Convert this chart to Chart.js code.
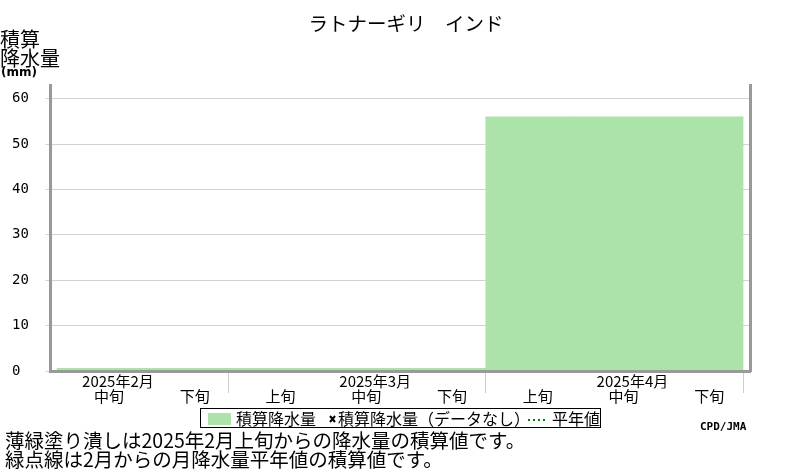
<!DOCTYPE html>
<html>
<head>
<meta charset="utf-8">
<script src="https://cdn.jsdelivr.net/npm/chart.js@4.4.1/dist/chart.umd.min.js"></script>
<style>
  body { margin: 0; background: #fff; }
  canvas { display: block; }
</style>
</head>
<body>
<canvas id="chart" width="800" height="470"></canvas>
<script>
// data
var stationName = 'ラトナーギリ\u3000インド';
var monthLabels = ['2025年2月', '', '', '2025年3月', '', '', '2025年4月', ''];
var dekadLabels = ['中旬', '下旬', '上旬', '中旬', '下旬', '上旬', '中旬', '下旬'];
var monthBounds = [2, 5, 8];
var precipSum = [0.6, 0.6, 0.6, 0.6, 0.6, 56, 56, 56];
var yTicks = [0, 10, 20, 30, 40, 50, 60];
var yMax = 63;
var yCaption = ['積算', '降水量', '(mm)'];
var notes = ['薄緑塗り潰しは2025年2月上旬からの降水量の積算値です。', '緑点線は2月からの月降水量平年値の積算値です。'];
var credit = 'CPD/JMA';

var jp = '"Noto Sans CJK JP", sans-serif';
var green = 'rgb(172, 227, 170)';
var xMin = -0.076, xMax = 8.087;

var dekadTicks = dekadLabels.map(function (d, i) { return i + 0.5; });

// caption, legend box, notes
var extras = {
  id: 'extras',
  afterDraw: function (chart) {
    var ctx = chart.ctx;
    var ds = chart.data.datasets;
    ctx.save();
    ctx.textBaseline = 'middle';
    ctx.textAlign = 'left';
    ctx.fillStyle = '#000';

    ctx.font = '20px ' + jp;
    ctx.fillText(yCaption[0], 0, 39);
    ctx.fillText(yCaption[1], 0, 58);
    ctx.font = 'bold 12px "DejaVu Sans"';
    ctx.fillText(yCaption[2], 1, 73);

    // legend
    ctx.strokeStyle = '#000';
    ctx.lineWidth = 1;
    ctx.strokeRect(200.5, 408.5, 400, 19);
    ctx.fillStyle = ds[0].backgroundColor;
    ctx.fillRect(208, 413, 23, 12);
    ctx.fillStyle = '#000';
    ctx.font = '16px ' + jp;
    ctx.fillText(ds[0].label, 236, 418.5);
    ctx.lineWidth = 2;
    ctx.beginPath();
    ctx.moveTo(330, 416); ctx.lineTo(335, 422);
    ctx.moveTo(335, 416); ctx.lineTo(330, 422);
    ctx.stroke();
    ctx.fillText(ds[1].label, 338, 418.5);
    ctx.strokeStyle = ds[2].borderColor;
    ctx.lineWidth = 2;
    ctx.setLineDash([2, 3]);
    ctx.beginPath();
    ctx.moveTo(528, 420); ctx.lineTo(547, 420);
    ctx.stroke();
    ctx.setLineDash([]);
    ctx.fillText(ds[2].label, 552, 418.5);

    ctx.font = 'bold 11px "DejaVu Sans Mono"';
    ctx.fillText(credit, 700, 427);

    ctx.font = '19.5px ' + jp;
    ctx.fillText(notes[0], 5, 441);
    ctx.fillText(notes[1], 5, 460);
    ctx.restore();
  }
};

var tickFont = { family: jp, size: 15, lineHeight: '15px' };

new Chart(document.getElementById('chart'), {
  type: 'bar',
  data: {
    datasets: [{
      label: '積算降水量',
      xAxisID: 'xd',
      data: precipSum.map(function (v, i) { return { x: dekadTicks[i], y: v }; }),
      backgroundColor: green,
      borderWidth: 0,
      barPercentage: 1,
      categoryPercentage: 1
    }, {
      type: 'line',
      label: '積算降水量（データなし）',
      xAxisID: 'xd',
      data: [],
      showLine: false,
      pointStyle: 'crossRot',
      borderColor: '#000'
    }, {
      type: 'line',
      label: '平年値',
      xAxisID: 'xd',
      data: [],
      borderColor: '#008000',
      borderDash: [2, 3],
      pointRadius: 0
    }]
  },
  options: {
    responsive: false,
    animation: false,
    devicePixelRatio: 1,
    layout: { padding: { left: 12, right: 0, top: 0, bottom: 0 } },
    plugins: {
      legend: { display: false },
      tooltip: { enabled: false },
      title: {
        display: true,
        text: stationName,
        color: '#000',
        font: { family: jp, size: 19.5, weight: 'normal' },
        padding: { top: 12, bottom: 49.6 }
      }
    },
    scales: {
      // months + axis line + month boundary marks
      x: {
        type: 'linear',
        position: 'bottom',
        weight: 0,
        min: xMin, max: xMax,
        offset: false,
        grid: {
          offset: false,
          drawOnChartArea: false,
          tickLength: 22,
          lineWidth: 1,
          color: function (c) {
            return c.tick && monthBounds.indexOf(c.tick.value) >= 0 ? '#cccccc' : 'rgba(0,0,0,0)';
          }
        },
        border: { display: true, color: '#999', width: 3, z: 1 },
        afterBuildTicks: function (s) {
          s.ticks = dekadTicks.concat(monthBounds).sort(function (a, b) { return a - b; })
            .map(function (v) { return { value: v }; });
        },
        afterFit: function (s) { s.height = 17.5; },
        ticks: {
          autoSkip: false, maxRotation: 0, minRotation: 0,
          color: '#000', padding: -19.5, labelOffset: 18,
          font: tickFont,
          callback: function (v) {
            return monthBounds.indexOf(v) >= 0 ? '' : monthLabels[Math.floor(v)];
          }
        }
      },
      // dekads
      xd: {
        type: 'linear',
        position: 'bottom',
        weight: 1,
        min: xMin, max: xMax,
        offset: false,
        grid: { display: false, drawTicks: false, offset: false },
        border: { display: false },
        afterBuildTicks: function (s) { s.ticks = dekadTicks.map(function (v) { return { value: v }; }); },
        afterFit: function (s) { s.height = 81.5; },
        ticks: {
          autoSkip: false, maxRotation: 0, minRotation: 0,
          color: '#000', padding: 0, labelOffset: 9,
          font: tickFont,
          callback: function (v) { return dekadLabels[Math.floor(v)]; }
        }
      },
      y: {
        type: 'linear',
        position: 'left',
        min: 0, max: yMax,
        grid: { color: '#d2d2d2', tickLength: 5 },
        border: { display: true, color: '#999', width: 3, z: 1 },
        afterBuildTicks: function (s) { s.ticks = yTicks.map(function (v) { return { value: v }; }); },
        afterFit: function (s) { s.width = 38.5; },
        ticks: {
          color: '#000', crossAlign: 'far',
          font: { family: '"DejaVu Sans Mono"', size: 14 }
        }
      },
      y2: {
        type: 'linear',
        position: 'right',
        display: true,
        min: 0, max: yMax,
        grid: { display: false },
        border: { display: true, color: '#999', width: 3, z: 1 },
        afterBuildTicks: function (s) { s.ticks = []; },
        afterFit: function (s) { s.width = 49.5; },
        ticks: { display: false }
      }
    }
  },
  plugins: [extras]
});
</script>
</body>
</html>
